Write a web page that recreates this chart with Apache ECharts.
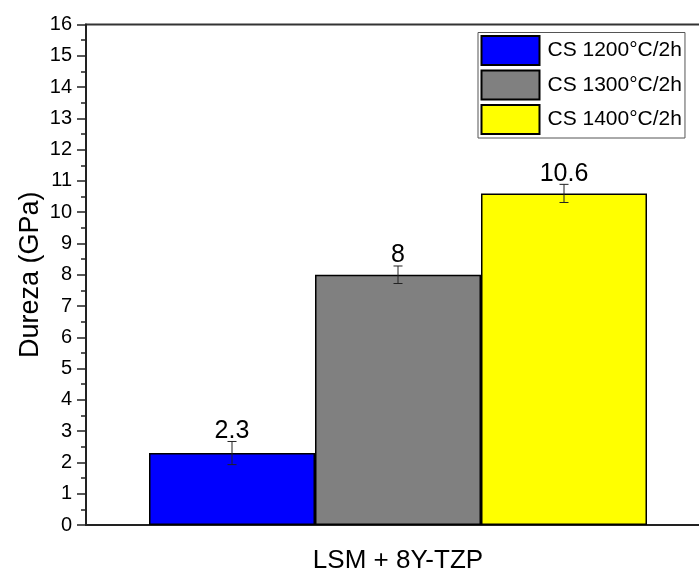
<!DOCTYPE html>
<html>
<head>
<meta charset="utf-8">
<script src="https://cdn.jsdelivr.net/npm/echarts@6/dist/echarts.min.js"></script>
<style>html,body{margin:0;padding:0;background:#fff;overflow:hidden;}#c{width:699px;height:574px;overflow:hidden;position:relative;}</style>
</head>
<body>
<div id="c"></div>
<script>
var categories = ['LSM + 8Y-TZP'];
var seriesNames = ['CS 1200°C/2h', 'CS 1300°C/2h', 'CS 1400°C/2h'];
var hardness = [2.3, 8, 10.6];
var hardnessErr = [0.37, 0.28, 0.29];
var colors = ['#0000ff', '#808080', '#ffff00'];
var yTicks = {min: 0, max: 16, interval: 1};

var FONT = 'Liberation Sans';
var BAR_W = 166;

// canvas a little wider than the window so the plot frame runs off the right edge, as in the original
var chart = echarts.init(document.getElementById('c'), null, {renderer: 'canvas', width: 710, height: 574});

var series = [];
seriesNames.forEach(function (name, i) {
  series.push({
    name: name,
    type: 'bar',
    barWidth: BAR_W,
    barGap: '0%',
    data: [hardness[i]],
    itemStyle: {color: colors[i], borderColor: '#000', borderWidth: 1.5},
    z: 2
  });
});
seriesNames.forEach(function (name, i) {
  series.push({
    name: name + ' err',
    type: 'custom',
    z: 5,
    data: [[0, hardness[i], hardnessErr[i]]],
    renderItem: function (params, api) {
      var v = api.value(1), e = api.value(2);
      var off = (i - 1) * BAR_W;
      var top = api.coord([api.value(0), v + e]);
      var bot = api.coord([api.value(0), v - e]);
      var x = top[0] + off;
      var hw = 4.5;
      var ls = {stroke: '#222', lineWidth: 1};
      return {
        type: 'group',
        children: [
          {type: 'line', shape: {x1: x, y1: top[1], x2: x, y2: bot[1]}, style: ls},
          {type: 'line', shape: {x1: x - hw, y1: top[1], x2: x + hw, y2: top[1]}, style: ls},
          {type: 'line', shape: {x1: x - hw, y1: bot[1], x2: x + hw, y2: bot[1]}, style: ls},
          {type: 'text', style: {text: String(v), x: x, y: top[1] + 2, textAlign: 'center', textVerticalAlign: 'bottom', font: '25px "' + FONT + '"', fill: '#000'}}
        ]
      };
    }
  });
});

chart.setOption({
  animation: false,
  backgroundColor: '#fff',
  grid: {left: 86, top: 24.5, right: 0, bottom: 47.5, show: true, borderColor: '#333', borderWidth: 2, backgroundColor: 'transparent'},
  legend: {
    data: seriesNames,
    orient: 'vertical',
    left: 478, top: 32.5,
    itemWidth: 58, itemHeight: 29, itemGap: 3.5,
    padding: [2.5, 3, 3, 2.5],
    borderColor: '#555', borderWidth: 1,
    backgroundColor: '#fff',
    icon: 'rect',
    textStyle: {fontSize: 21, fontFamily: FONT, color: '#000', padding: [0, 0, 0, 3]}
  },
  xAxis: {
    type: 'category',
    data: categories,
    axisLine: {lineStyle: {color: '#222', width: 2}},
    axisTick: {alignWithLabel: true, length: 10, lineStyle: {color: '#222', width: 1.5}},
    axisLabel: {fontSize: 26, fontFamily: FONT, color: '#000', margin: 23}
  },
  yAxis: {
    type: 'value',
    min: yTicks.min, max: yTicks.max, interval: yTicks.interval,
    name: 'Dureza (GPa)',
    nameLocation: 'middle',
    nameGap: 42,
    nameMoveOverlap: false,
    nameTextStyle: {fontSize: 27, fontFamily: FONT, color: '#000'},
    axisLine: {show: true, lineStyle: {color: '#222', width: 2}},
    axisTick: {show: true, length: 9, lineStyle: {color: '#222', width: 1.5}},
    minorTick: {show: true, splitNumber: 2, length: 5, lineStyle: {color: '#222', width: 1.5}},
    splitLine: {show: false},
    axisLabel: {fontSize: 20, fontFamily: FONT, color: '#000', margin: 14}
  },
  series: series
});
</script>
</body>
</html>
